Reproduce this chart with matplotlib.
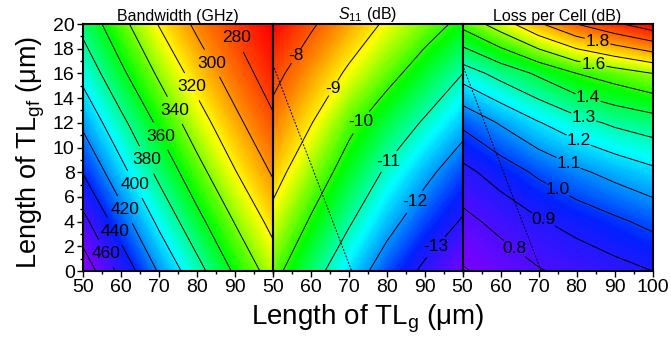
import numpy as np
import matplotlib
matplotlib.use('Agg')
import matplotlib.pyplot as plt
from matplotlib.colors import LinearSegmentedColormap
from matplotlib.ticker import MultipleLocator

plt.rcParams['font.family'] = ['Liberation Sans', 'DejaVu Sans']
plt.rcParams['mathtext.fontset'] = 'custom'
plt.rcParams['mathtext.rm'] = 'Liberation Sans'
plt.rcParams['mathtext.it'] = 'Liberation Sans:italic'
plt.rcParams['contour.negative_linestyle'] = 'solid'

# grid (um)
tl_g = [50, 60, 70, 80, 90, 100]
tl_gf = [0, 4, 8, 12, 16, 20]

# values, rows = tl_gf, cols = tl_g
bandwidth = [[493, 454, 418, 387, 357, 331],
             [466, 429, 396, 366, 339, 314],
             [439, 406, 375, 347, 321, 298],
             [416, 385, 356, 329, 305, 283],
             [394, 364, 337, 312, 290, 270],
             [374, 346, 319, 296, 277, 261]]

s11 = [[-9.76, -10.67, -11.56, -12.39, -13.17, -13.94],
       [-9.23, -10.08, -10.92, -11.75, -12.44, -13.08],
       [-8.71, -9.53, -10.34, -11.12, -11.81, -12.45],
       [-8.25, -8.97, -9.81, -10.48, -11.09, -11.74],
       [-7.79, -8.46, -9.12, -9.75, -10.38, -11.00],
       [-7.28, -7.90, -8.52, -9.12, -9.66, -10.20]]

loss = [[0.690, 0.741, 0.792, 0.830, 0.865, 0.900],
        [0.771, 0.829, 0.889, 0.936, 0.981, 1.026],
        [0.871, 0.945, 1.018, 1.080, 1.131, 1.177],
        [1.020, 1.109, 1.194, 1.264, 1.317, 1.352],
        [1.247, 1.335, 1.416, 1.500, 1.550, 1.600],
        [1.530, 1.650, 1.786, 1.900, 1.983, 2.060]]

# labelled / unlabelled contour levels
bw_labelled = [280, 300, 320, 340, 360, 380, 400, 420, 440, 460]
bw_plain = [480]
s11_labelled = [-13, -12, -11, -10, -9, -8]
s11_plain = []
loss_labelled = [0.8, 0.9, 1.0, 1.1, 1.2, 1.3, 1.4, 1.6, 1.8]
loss_plain = [0.7, 1.5, 1.7, 1.9, 2.0]

# boundary line drawn dashed on the S11 and loss maps
limit_x = [50, 70.7]
limit_y = [16.7, 0]

rainbow = LinearSegmentedColormap.from_list(
    'origin_rainbow',
    [(0.0, '#7f00ff'), (0.2, '#0020ff'), (0.39, '#00ffff'), (0.57, '#00ff00'),
     (0.73, '#ffff00'), (0.85, '#ff8000'), (1.0, '#ff0000')])

X, Y = np.meshgrid(tl_g, tl_gf)

fig = plt.figure(figsize=(6.71, 3.39), dpi=100)
w = 190 / 671
h = 247 / 339
bottom = 68 / 339
lefts = [83 / 671, 273 / 671, 462.5 / 671]
axes = [fig.add_axes([l, bottom, w, h]) for l in lefts]

panels = [
    (bandwidth, rainbow.reversed(), 262, 485, bw_labelled, bw_plain, '%d',
     [(89.9, 18.8), (83.8, 16.8), (78.5, 14.9), (74.1, 13.0), (70.2, 10.9),
      (66.7, 9.0), (63.6, 7.0), (61.0, 4.95), (58.1, 3.2), (56.0, 1.4)],
     'Bandwidth (GHz)'),
    (s11, rainbow, -14.0, -7.25, s11_labelled, s11_plain, '%d',
     [(55.7, 17.5), (65.4, 14.9), (72.5, 12.2), (80.0, 9.0), (86.6, 5.75), (92.8, 1.97)],
     '$S_{11}$ (dB)'),
    (loss, rainbow, 0.69, 2.06, loss_labelled, loss_plain, '%.1f',
     [(85.7, 18.83), (84.4, 16.67), (83.1, 14.1), (81.7, 12.27), (80.4, 10.45),
      (77.8, 8.65), (74.7, 6.4), (71.2, 4.1), (63.3, 1.68)],
     'Loss per Cell (dB)'),
]

for i, (ax, (Z, cmap, vmin, vmax, lab_lev, plain_lev, fmt, pos, title)) in enumerate(zip(axes, panels)):
    Z = np.array(Z)
    ax.contourf(X, Y, Z, levels=np.linspace(min(vmin, Z.min()), max(vmax, Z.max()), 150),
                cmap=cmap, vmin=vmin, vmax=vmax)
    if plain_lev:
        ax.contour(X, Y, Z, levels=plain_lev, colors='k', linewidths=0.7)
    cs = ax.contour(X, Y, Z, levels=lab_lev, colors='k', linewidths=0.7)
    labels = ax.clabel(cs, fmt=fmt, fontsize=12.5, inline=True, inline_spacing=1, manual=pos)
    for t in labels:
        t.set_rotation(0)
    if i > 0:
        ax.plot(limit_x, limit_y, color='k', lw=0.7, ls=(0, (2, 1.5)))
    ax.set_xlim(50, 100)
    ax.set_ylim(0, 20)
    ax.set_title(title, fontsize=11.5, pad=2)
    ax.xaxis.set_major_locator(MultipleLocator(10))
    ax.xaxis.set_minor_locator(MultipleLocator(5))
    ax.yaxis.set_major_locator(MultipleLocator(2))
    ax.yaxis.set_minor_locator(MultipleLocator(1))
    ax.tick_params(which='major', direction='out', length=4, width=1, labelsize=14, pad=2)
    ax.tick_params(which='minor', direction='out', length=2.5, width=1)
    for sp in ax.spines.values():
        sp.set_linewidth(1.5)
    if i < 2:
        ax.set_xticks([50, 60, 70, 80, 90])
    if i > 0:
        ax.tick_params(axis='y', which='both', left=False, labelleft=False)

fig.text(0.548, 0.058, 'Length of TL$_{\\mathrm{g}}$ (μm)', ha='center', va='center', fontsize=20)
fig.text(0.046, 0.55, 'Length of TL$_{\\mathrm{gf}}$ (μm)', ha='center', va='center',
         rotation=90, fontsize=19.5)

fig.savefig('out.png', dpi=100)
